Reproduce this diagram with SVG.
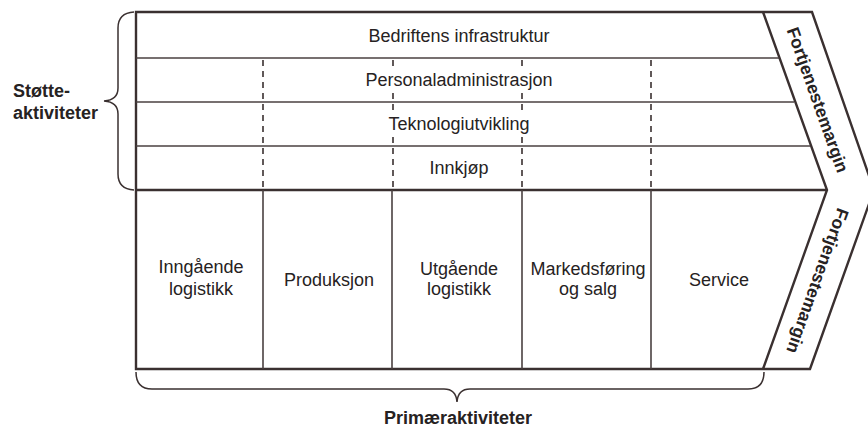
<svg xmlns="http://www.w3.org/2000/svg" width="868" height="429" viewBox="0 0 868 429">
  <style>
    .frame { fill: none; stroke: #3a3030; stroke-width: 2.4; stroke-linejoin: miter; }
    .row { fill: none; stroke: #4a4040; stroke-width: 1.6; }
    .col { fill: none; stroke: #4a4040; stroke-width: 1.6; }
    .dash { fill: none; stroke: #3a3030; stroke-width: 1.6; stroke-dasharray: 6 5; }
    .brace { fill: none; stroke: #3a3030; stroke-width: 1.5; }
    .knock { fill: #ffffff; }
    .lbl { font-family: "Liberation Sans", Arial, sans-serif; font-size: 18px; fill: #262222; text-anchor: middle; }
    .bold { font-family: "Liberation Sans", Arial, sans-serif; font-size: 18px; font-weight: bold; fill: #262222; }
    .margin { font-family: "Liberation Sans", Arial, sans-serif; font-size: 17.5px; font-weight: bold; fill: #262222; text-anchor: middle; }
  </style>
  <rect width="868" height="429" fill="#ffffff"/>

  <!-- outer chain outline with the margin chevron -->
  <g id="frame">
    <path class="frame" d="M136,12 H812 L874,190 L810,369 H136 Z"/>
    <path class="frame" d="M763,12 L827,190 L763,369"/>
    <path class="frame" d="M136,190 H827"/>
  </g>

  <!-- support activity rows -->
  <g id="support-rows">
    <line class="row" x1="136" y1="58" x2="779" y2="58"/>
    <line class="row" x1="136" y1="102" x2="794" y2="102"/>
    <line class="row" x1="136" y1="146" x2="810" y2="146"/>
  </g>

  <!-- dashed links from primary columns up through support rows -->
  <g id="connectors">
    <line class="dash" x1="263" y1="60" x2="263" y2="190"/>
    <line class="dash" x1="393" y1="60" x2="393" y2="190"/>
    <line class="dash" x1="522" y1="60" x2="522" y2="190"/>
    <line class="dash" x1="651" y1="60" x2="651" y2="190"/>
  </g>

  <!-- primary activity columns -->
  <g id="primary-columns">
    <line class="col" x1="263" y1="190" x2="263" y2="369"/>
    <line class="col" x1="392" y1="190" x2="392" y2="369"/>
    <line class="col" x1="522" y1="190" x2="522" y2="369"/>
    <line class="col" x1="651" y1="190" x2="651" y2="369"/>
  </g>

  <g id="infrastruktur"><text class="lbl" x="459" y="42">Bedriftens infrastruktur</text></g>
  <g id="personal"><rect class="knock" x="364" y="68" width="190" height="23"/><text class="lbl" x="459" y="86">Personaladministrasjon</text></g>
  <g id="teknologi"><rect class="knock" x="387" y="112" width="144" height="23"/><text class="lbl" x="459" y="130">Teknologiutvikling</text></g>
  <g id="innkjop"><text class="lbl" x="459" y="174">Innkjøp</text></g>

  <g id="inngaende"><text class="lbl" x="201" y="273">Inngående</text><text class="lbl" x="201" y="295">logistikk</text></g>
  <g id="produksjon"><text class="lbl" x="329" y="286">Produksjon</text></g>
  <g id="utgaende"><text class="lbl" x="459" y="275">Utgående</text><text class="lbl" x="459" y="295">logistikk</text></g>
  <g id="markedsforing"><text class="lbl" x="588" y="275">Markedsføring</text><text class="lbl" x="588" y="295">og salg</text></g>
  <g id="service"><text class="lbl" x="719" y="286">Service</text></g>

  <!-- margin labels along the chevron -->
  <g id="margin-top"><text class="margin" transform="translate(812,102) rotate(70.5)">Fortjenestemargin</text></g>
  <g id="margin-bottom"><text class="margin" transform="translate(812,279) rotate(109.7)">Fortjenestemargin</text></g>

  <!-- braces and group labels -->
  <g id="support-group">
    <path class="brace" d="M134,12 Q118,13 118,28 V88 Q118,100 104,101 Q118,102 118,114 V174 Q118,189 134,190"/>
    <text class="bold" x="13" y="97">Støtte-</text>
    <text class="bold" x="13" y="119">aktiviteter</text>
  </g>
  <g id="primary-group">
    <path class="brace" d="M136,372 Q136,389 152,389 H444 Q456,389 457,402 Q458,389 470,389 H748 Q764,389 764,372"/>
    <text class="bold" x="458" y="424" text-anchor="middle">Primæraktiviteter</text>
  </g>
</svg>
